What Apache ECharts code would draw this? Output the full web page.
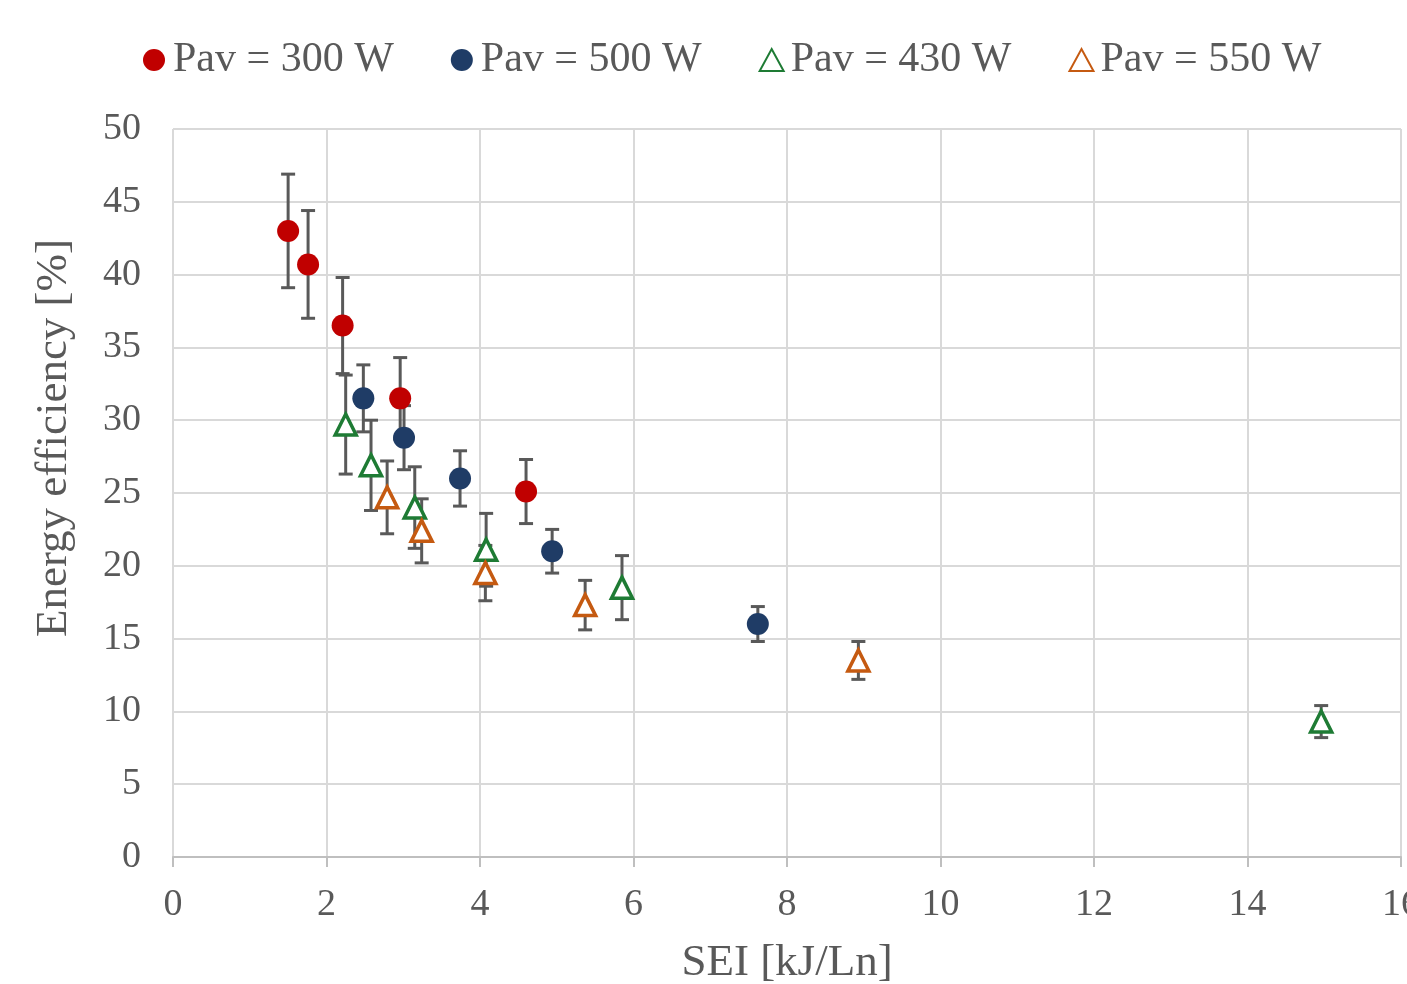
<!DOCTYPE html>
<html>
<head>
<meta charset="utf-8">
<script src="https://cdn.jsdelivr.net/npm/echarts@6/dist/echarts.min.js"></script>
<style>
html,body{margin:0;padding:0;background:#fff;}
#chart{width:1407px;height:984px;}
</style>
</head>
<body>
<div id="chart"></div>
<script>
// ---- data ----
const seriesNames = ['Pav = 300 W', 'Pav = 500 W', 'Pav = 430 W', 'Pav = 550 W'];

const sei300 = [1.50, 1.76, 2.21, 2.96, 4.60];
const eff300 = [43.0, 40.7, 36.5, 31.5, 25.1];
const err300 = [3.9, 3.7, 3.3, 2.8, 2.2];

const sei500 = [2.48, 3.01, 3.74, 4.94, 7.62];
const eff500 = [31.5, 28.8, 26.0, 21.0, 16.0];
const err500 = [2.3, 2.2, 1.9, 1.5, 1.2];

const sei430 = [2.25, 2.58, 3.15, 4.08, 5.85, 14.96];
const eff430 = [29.7, 26.9, 24.0, 21.1, 18.5, 9.3];
const err430 = [3.4, 3.1, 2.8, 2.5, 2.2, 1.1];

const sei550 = [2.79, 3.24, 4.07, 5.37, 8.93];
const eff550 = [24.7, 22.4, 19.5, 17.3, 13.5];
const err550 = [2.5, 2.2, 1.9, 1.7, 1.3];

const xTicks = [0, 2, 4, 6, 8, 10, 12, 14, 16];
const yTicks = [0, 5, 10, 15, 20, 25, 30, 35, 40, 45, 50];

// ---- build chart ----
const FONT = '"Liberation Serif", "Times New Roman", serif';
const TXT = '#595959';
const colors = ['#C00000', '#1F3C66', '#1E7B34', '#C55A11'];
const symbols = ['circle', 'circle', 'triangle', 'triangle'];
const groups = [
  [sei300, eff300, err300],
  [sei500, eff500, err500],
  [sei430, eff430, err430],
  [sei550, eff550, err550]
];

function zip(a, b, c) { return a.map((v, i) => c ? [v, b[i], c[i]] : [v, b[i]]); }

const series = [];
groups.forEach((g, k) => {
  series.push({
    name: seriesNames[k] + ' err',
    type: 'custom',
    z: 1,
    silent: true,
    encode: { x: 0, y: 1 },
    data: zip(g[0], g[1], g[2]),
    renderItem: function (params, api) {
      const x = api.value(0), y = api.value(1), e = api.value(2);
      const t = api.coord([x, y + e]);
      const b = api.coord([x, y - e]);
      const hw = 7;
      const st = { stroke: '#595959', lineWidth: 3 };
      return {
        type: 'group',
        children: [
          { type: 'line', shape: { x1: t[0], y1: t[1], x2: b[0], y2: b[1] }, style: st },
          { type: 'line', shape: { x1: t[0] - hw, y1: t[1], x2: t[0] + hw, y2: t[1] }, style: st },
          { type: 'line', shape: { x1: b[0] - hw, y1: b[1], x2: b[0] + hw, y2: b[1] }, style: st }
        ]
      };
    }
  });
});
groups.forEach((g, k) => {
  const tri = symbols[k] === 'triangle';
  series.push({
    name: seriesNames[k],
    type: 'scatter',
    z: 3,
    symbol: symbols[k],
    symbolSize: tri ? 21 : 22,
    data: zip(g[0], g[1]),
    itemStyle: tri
      ? { color: '#ffffff', borderColor: colors[k], borderWidth: 3.5, opacity: 1 }
      : { color: colors[k], opacity: 1 }
  });
});

const chart = echarts.init(document.getElementById('chart'), null, { renderer: 'canvas' });
chart.setOption({
  animation: false,
  backgroundColor: '#ffffff',
  textStyle: { fontFamily: FONT, color: TXT },
  legend: {
    data: seriesNames,
    top: 34,
    left: 138,
    itemWidth: 24,
    itemHeight: 22,
    itemGap: 57,
    textStyle: { fontFamily: FONT, fontSize: 42, color: TXT, padding: [0, 0, 0, 2] }
  },
  grid: { left: 173, right: 6, top: 129, bottom: 127, containLabel: false, outerBoundsMode: 'none' },
  xAxis: {
    type: 'value',
    min: xTicks[0],
    max: xTicks[xTicks.length - 1],
    interval: 2,
    name: 'SEI [kJ/Ln]',
    nameLocation: 'middle',
    nameGap: 84,
    nameTextStyle: { fontFamily: FONT, fontSize: 45, color: TXT },
    axisLine: { show: true, lineStyle: { color: '#BFBFBF', width: 2 } },
    axisTick: { show: true, length: 10, lineStyle: { color: '#BFBFBF', width: 2 } },
    axisLabel: { fontFamily: FONT, fontSize: 38, color: TXT, margin: 29 },
    splitLine: { show: true, lineStyle: { color: '#D9D9D9', width: 2 } }
  },
  yAxis: {
    type: 'value',
    min: yTicks[0],
    max: yTicks[yTicks.length - 1],
    interval: 5,
    name: 'Energy efficiency [%]',
    nameLocation: 'middle',
    nameGap: 96,
    nameTextStyle: { fontFamily: FONT, fontSize: 45, color: TXT, padding: [0, 0, 0, 110] },
    axisLine: { show: false },
    axisTick: { show: false },
    axisLabel: { fontFamily: FONT, fontSize: 38, color: TXT, margin: 32 },
    splitLine: { show: true, lineStyle: { color: '#D9D9D9', width: 2 } }
  },
  series: series
});
</script>
</body>
</html>
